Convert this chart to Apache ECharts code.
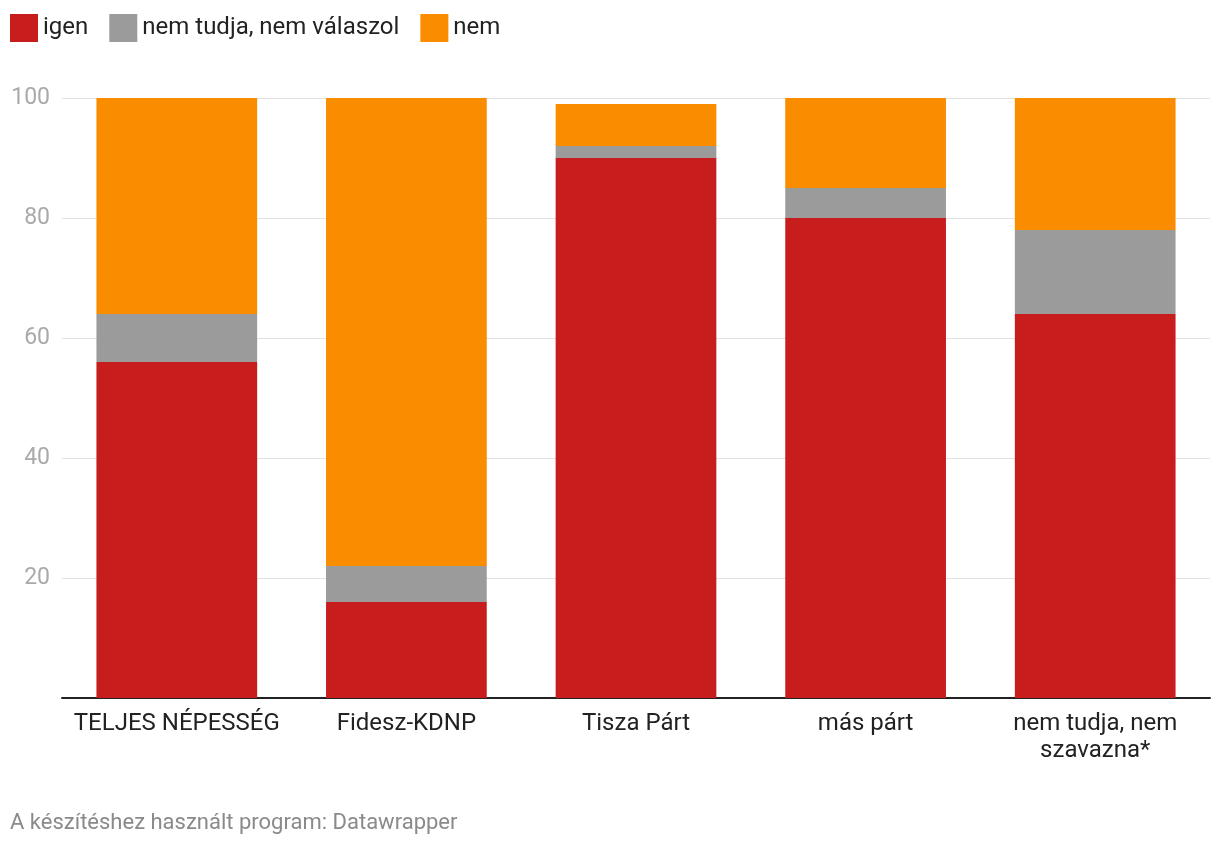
<!DOCTYPE html>
<html><head><meta charset="utf-8">
<script src="https://cdn.jsdelivr.net/npm/echarts@6/dist/echarts.min.js"></script>
<style>html,body{margin:0;padding:0;background:#fff}#c{width:1220px;height:848px}</style>
</head><body><div id="c"></div>
<script>
const categories = ['TELJES NÉPESSÉG', 'Fidesz-KDNP', 'Tisza Párt', 'más párt', 'nem tudja, nem\nszavazna*'];
const igen = [56, 16, 90, 80, 64];
const nemTudja = [8, 6, 2, 5, 14];
const nem = [36, 78, 7, 15, 22];
const seriesNames = ['igen', 'nem tudja, nem válaszol', 'nem'];
const colors = ['#c71e1d', '#9b9b9b', '#fa8c00'];
const footer = 'A készítéshez használt program: Datawrapper';

const chart = echarts.init(document.getElementById('c'), null, {renderer: 'canvas'});
const font = 'Roboto, sans-serif';
chart.setOption({
  animation: false,
  textStyle: {fontFamily: font},
  title: {text: footer, left: 10, top: 812, padding: 0, textStyle: {fontFamily: font, fontSize: 22, fontWeight: 'normal', color: '#8a8a8a'}},
  legend: {
    left: 10, top: 14, padding: 0, itemWidth: 28, itemHeight: 28, itemGap: 21, icon: 'rect',
    textStyle: {fontFamily: font, fontSize: 24, color: '#222', padding: [0, 0, 0, 0]},
    data: seriesNames
  },
  grid: {left: 62, right: 10, top: 98, bottom: 150, containLabel: false},
  xAxis: {
    type: 'category', data: categories,
    axisLine: {lineStyle: {color: '#222', width: 2}},
    axisTick: {show: false},
    axisLabel: {fontFamily: font, fontSize: 24, color: '#222', margin: 12, lineHeight: 27, interval: 0}
  },
  yAxis: {
    type: 'value', min: 0, max: 100, interval: 20,
    axisLine: {show: false}, axisTick: {show: false},
    splitLine: {lineStyle: {color: '#e2e2e2', width: 1}},
    axisLabel: {fontFamily: font, fontSize: 23, color: '#aaa', margin: 12, verticalAlign: 'middle',
      formatter: v => v === 0 ? '' : String(v)}
  },
  series: [
    {name: seriesNames[0], type: 'bar', stack: 's', data: igen, barWidth: '70%', itemStyle: {color: colors[0]}},
    {name: seriesNames[1], type: 'bar', stack: 's', data: nemTudja, barWidth: '70%', itemStyle: {color: colors[1]}},
    {name: seriesNames[2], type: 'bar', stack: 's', data: nem, barWidth: '70%', itemStyle: {color: colors[2]}}
  ]
});
</script></body></html>
